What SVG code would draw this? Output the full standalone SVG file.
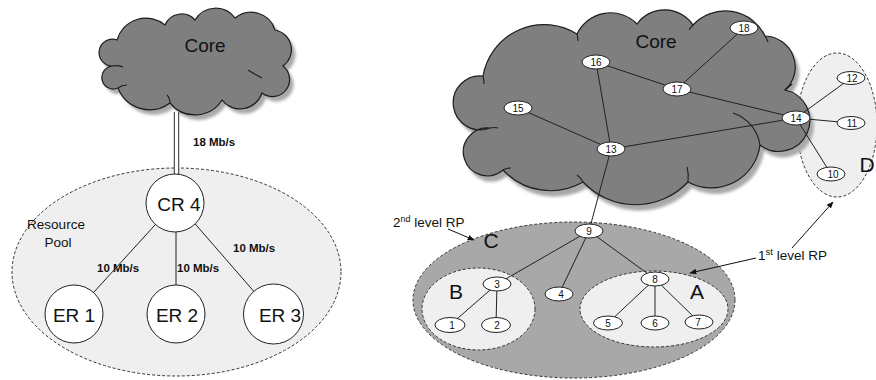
<svg xmlns="http://www.w3.org/2000/svg" width="876" height="380" viewBox="0 0 876 380">
  <style>
    text { font-family: "Liberation Sans", Arial, sans-serif; fill: #111; }
    .cloud { fill: #7f7f7f; stroke: #1e1e1e; stroke-width: 1.2; }
    .shadow { fill: #a9a9a9; filter: url(#soft); }
    .inner { fill: none; stroke: #1e1e1e; stroke-width: 1.1; }
    .pool { stroke: #333; stroke-width: 1; stroke-dasharray: 3 2; }
    .light { fill: #efefef; }
    .link { stroke: #222; stroke-width: 1; fill: none; }
    .router { fill: #fff; stroke: #222; stroke-width: 1; }
    .node { fill: #fff; stroke: #222; stroke-width: 1; }
    .big { font-size: 19px; text-anchor: middle; }
    .rate { font-size: 11.5px; font-weight: bold; }
    .id { font-size: 10px; text-anchor: middle; }
    .letter { font-size: 21px; text-anchor: middle; }
    .note { font-size: 13.5px; }
    .arrow { stroke: #111; stroke-width: 1; fill: none; marker-end: url(#head); }
  </style>
  <defs>
    <filter id="soft" x="-10%" y="-10%" width="120%" height="120%">
      <feGaussianBlur stdDeviation="1.4"/>
    </filter>
    <marker id="head" viewBox="0 0 10 10" refX="9" refY="5" markerWidth="7" markerHeight="7" orient="auto" markerUnits="userSpaceOnUse">
      <path d="M0,1 L10,5 L0,9 Z" fill="#111"/>
    </marker>
    <path id="cloudL" d="M117,40 A30,30 0 0 1 165,25 A18,18 0 0 1 195,20 A24,24 0 0 1 235,18 A25,25 0 0 1 275,30 A20,20 0 0 1 283,66 A17,17 0 0 1 262,93 A23,23 0 0 1 222,100 A32,32 0 0 1 170,103 A34,34 0 0 1 118,88 A11.5,11.5 0 1 1 113,66 A13.4,13.4 0 1 1 117,40 Z"/>
    <path id="cloudR" d="M483,76 A62,62 0 0 1 577,34 A37,37 0 0 1 637,24 A34,34 0 0 1 693,25 A44,44 0 0 1 765,36 A31,31 0 0 1 785,90 A31,31 0 1 1 760,145 A49,49 0 0 1 688,182 A72,72 0 0 1 583,182 A65,65 0 0 1 503,170 A24,24 0 1 1 490,128 A27,27 0 1 1 483,76 Z"/>
  </defs>

  <!-- left network: core cloud and resource pool -->
  <g id="pool-left">
    <ellipse class="pool light" cx="176.5" cy="272" rx="164.5" ry="104"/>
    <text class="note" x="56" y="229" text-anchor="middle" font-size="15">Resource</text>
    <text class="note" x="58" y="247" text-anchor="middle" font-size="15">Pool</text>
  </g>

  <g id="core-left">
    <use href="#cloudL" class="shadow" transform="translate(4,5)"/>
    <use href="#cloudL" class="cloud"/>
    <path class="inner" d="M248,70 Q256,75 262,78"/>
    <path class="inner" d="M118,88 q4,-3 9,-3"/>
    <path class="inner" d="M170,103 q0,-5 -3,-8"/>
    <path class="inner" d="M113,66 q5,-1 10,1"/>
    <text class="big" x="205" y="52" font-size="20">Core</text>
  </g>

  <g id="connectors-left">
    <line x1="176.5" y1="112" x2="176.5" y2="175" stroke="#555" stroke-width="5.5"/>
    <line x1="176.5" y1="112" x2="176.5" y2="175" stroke="#fff" stroke-width="3"/>
    <line class="link" x1="175" y1="203" x2="74" y2="314"/>
    <line class="link" x1="176" y1="203" x2="176" y2="314"/>
    <line class="link" x1="177" y1="203" x2="273.5" y2="314"/>
    <text class="rate" x="193" y="146">18 Mb/s</text>
    <text class="rate" x="97" y="272">10 Mb/s</text>
    <text class="rate" x="177" y="272">10 Mb/s</text>
    <text class="rate" x="233" y="252">10 Mb/s</text>
  </g>

  <g id="cr4">
    <circle class="router" cx="175" cy="203" r="29"/>
    <text class="big" x="179" y="211">CR 4</text>
  </g>
  <g id="er1">
    <circle class="router" cx="74" cy="314" r="29"/>
    <text class="big" x="74" y="322">ER 1</text>
  </g>
  <g id="er2">
    <circle class="router" cx="176" cy="314" r="29"/>
    <text class="big" x="177" y="322">ER 2</text>
  </g>
  <g id="er3">
    <circle class="router" cx="273.5" cy="314" r="30"/>
    <text class="big" x="280" y="322">ER 3</text>
  </g>

  <!-- right network: core cloud with hierarchical resource pools -->
  <g id="pool-d">
    <ellipse class="pool light" cx="837" cy="125" rx="40" ry="72"/>
    <text class="letter" x="867" y="172">D</text>
  </g>

  <g id="core-right">
    <use href="#cloudR" class="shadow" transform="translate(4,6)"/>
    <use href="#cloudR" class="cloud"/>
    <path class="inner" d="M733,113 A40,40 0 0 1 760,145"/>
    <path class="inner" d="M785,90 q5,-4 7,-6"/>
    <path class="inner" d="M688,182 q1,-8 -1,-15"/>
    <path class="inner" d="M583,182 q-2,-4 -6,-7"/>
    <path class="inner" d="M503,170 q4,-2 8,-2"/>
    <path class="inner" d="M490,128 q4,-1 8,0"/>
    <path class="inner" d="M483,76 q1,4 1,8"/>
    <path class="inner" d="M577,34 q1,3 1,7"/>
    <path class="inner" d="M693,25 q-2,2 -4,5"/>
    <path class="inner" d="M765,36 q2,3 3,6"/>
    <text class="big" x="656" y="48" font-size="20">Core</text>
  </g>

  <g id="pool-c">
    <ellipse class="pool" cx="574" cy="300" rx="161" ry="78" fill="#a8a8a8"/>
    <text class="letter" x="491" y="248">C</text>
  </g>
  <g id="pool-b">
    <ellipse class="pool light" cx="478.5" cy="309" rx="56.5" ry="41"/>
    <text class="letter" x="456" y="299">B</text>
  </g>
  <g id="pool-a">
    <ellipse class="pool light" cx="654" cy="309" rx="74" ry="38"/>
    <text class="letter" x="697" y="299">A</text>
  </g>

  <g id="connectors-right">
    <line class="link" x1="744" y1="28" x2="677" y2="89"/>
    <line class="link" x1="596" y1="62" x2="677" y2="89"/>
    <line class="link" x1="596" y1="62" x2="611" y2="149"/>
    <line class="link" x1="518" y1="108" x2="611" y2="149"/>
    <line class="link" x1="677" y1="89" x2="796" y2="118"/>
    <line class="link" x1="611" y1="149" x2="796" y2="118"/>
    <line class="link" x1="796" y1="118" x2="851" y2="78"/>
    <line class="link" x1="796" y1="118" x2="851" y2="123"/>
    <line class="link" x1="796" y1="118" x2="831" y2="174"/>
    <line class="link" x1="611" y1="149" x2="589" y2="231"/>
    <line class="link" x1="589" y1="231" x2="497" y2="284"/>
    <line class="link" x1="589" y1="231" x2="559" y2="294"/>
    <line class="link" x1="589" y1="231" x2="655" y2="279"/>
    <line class="link" x1="497" y1="284" x2="450" y2="325"/>
    <line class="link" x1="497" y1="284" x2="496" y2="325"/>
    <line class="link" x1="655" y1="279" x2="608" y2="323"/>
    <line class="link" x1="655" y1="279" x2="655" y2="323"/>
    <line class="link" x1="655" y1="279" x2="699" y2="322"/>
    <line class="arrow" x1="448" y1="229" x2="474" y2="240"/>
    <line class="arrow" x1="756" y1="258" x2="690" y2="273"/>
    <line class="arrow" x1="792" y1="248" x2="833" y2="202"/>
  </g>

  <g id="labels-rp">
    <text class="note" x="393" y="227">2<tspan font-size="9" dy="-5">nd</tspan><tspan dy="5"> level RP</tspan></text>
    <text class="note" x="758" y="260" font-size="14">1<tspan font-size="9.5" dy="-5">st</tspan><tspan dy="5"> level RP</tspan></text>
  </g>

  <g id="n18"><ellipse class="node" cx="744" cy="28" rx="14" ry="7"/><text class="id" x="744" y="31.5">18</text></g>
  <g id="n16"><ellipse class="node" cx="596" cy="62" rx="14" ry="7"/><text class="id" x="596" y="65.5">16</text></g>
  <g id="n17"><ellipse class="node" cx="677" cy="89" rx="14" ry="7"/><text class="id" x="677" y="92.5">17</text></g>
  <g id="n15"><ellipse class="node" cx="518" cy="108" rx="14" ry="7"/><text class="id" x="518" y="111.5">15</text></g>
  <g id="n14"><ellipse class="node" cx="796" cy="118" rx="14" ry="7"/><text class="id" x="796" y="121.5">14</text></g>
  <g id="n13"><ellipse class="node" cx="611" cy="149" rx="14" ry="7"/><text class="id" x="611" y="152.5">13</text></g>
  <g id="n12"><ellipse class="node" cx="851" cy="78" rx="14" ry="6.5"/><text class="id" x="852" y="81.5">12</text></g>
  <g id="n11"><ellipse class="node" cx="851" cy="123" rx="14" ry="6.5"/><text class="id" x="852" y="126.5">11</text></g>
  <g id="n10"><ellipse class="node" cx="831" cy="174" rx="14" ry="7"/><text class="id" x="833" y="178">10</text></g>
  <g id="n9"><ellipse class="node" cx="589" cy="231" rx="14" ry="7"/><text class="id" x="589" y="234.5">9</text></g>
  <g id="n3"><ellipse class="node" cx="497" cy="284" rx="14" ry="7"/><text class="id" x="497" y="287.5">3</text></g>
  <g id="n4"><ellipse class="node" cx="559" cy="294" rx="14" ry="7"/><text class="id" x="561" y="298">4</text></g>
  <g id="n8"><ellipse class="node" cx="655" cy="279" rx="14" ry="7"/><text class="id" x="655" y="282.5">8</text></g>
  <g id="n1"><ellipse class="node" cx="450" cy="325" rx="15" ry="7.5"/><text class="id" x="452" y="329">1</text></g>
  <g id="n2"><ellipse class="node" cx="496" cy="325" rx="14.5" ry="7.5"/><text class="id" x="497" y="329">2</text></g>
  <g id="n5"><ellipse class="node" cx="608" cy="323" rx="14.5" ry="7"/><text class="id" x="608" y="327">5</text></g>
  <g id="n6"><ellipse class="node" cx="655" cy="323" rx="14" ry="7"/><text class="id" x="655" y="327">6</text></g>
  <g id="n7"><ellipse class="node" cx="699" cy="322" rx="14" ry="7"/><text class="id" x="698" y="326">7</text></g>
</svg>
